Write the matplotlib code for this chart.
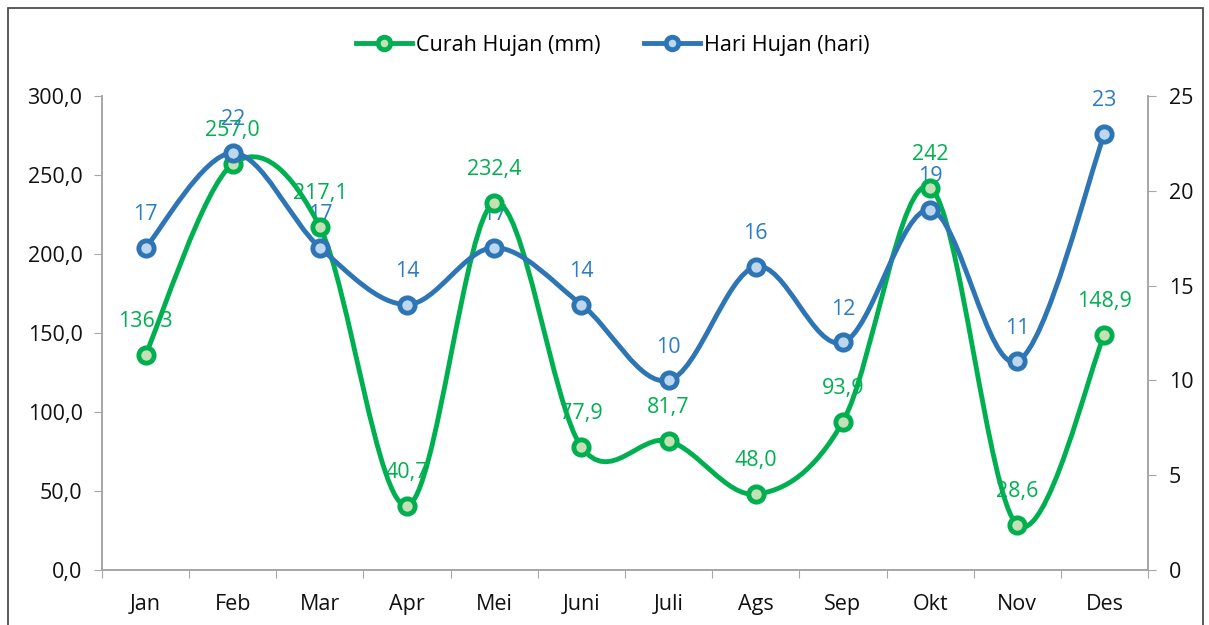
import matplotlib
matplotlib.use("Agg")
import matplotlib.pyplot as plt
from matplotlib.path import Path
from matplotlib.patches import PathPatch, Rectangle
from matplotlib.lines import Line2D
import numpy as np

plt.rcParams['font.family'] = ['Open Sans', 'DejaVu Sans']

# data
bulan = ['Jan', 'Feb', 'Mar', 'Apr', 'Mei', 'Juni', 'Juli', 'Ags', 'Sep', 'Okt', 'Nov', 'Des']
curah_hujan = [136.3, 257.0, 217.1, 40.7, 232.4, 77.9, 81.7, 48.0, 93.9, 242.0, 28.6, 148.9]
curah_label = ['136,3', '257,0', '217,1', '40,7', '232,4', '77,9', '81,7', '48,0', '93,9', '242', '28,6', '148,9']
hari_hujan = [17, 22, 17, 14, 17, 14, 10, 16, 12, 19, 11, 23]

left_ticks = [0, 50, 100, 150, 200, 250, 300]
right_ticks = [0, 5, 10, 15, 20, 25]

GREEN = '#00b050'
GREEN_FILL = '#c5e0b4'
BLUE = '#2e75b6'
BLUE_FILL = '#bdd7ee'
BLUE_TXT = '#2a7cc6'
AXIS = '#a6a6a6'
FS = 15.5


def smooth_path(xs, ys):
    # excel-like smoothed line as cubic bezier segments
    pts = np.column_stack([xs, ys]).astype(float)
    n = len(pts)
    verts = [pts[0]]
    codes = [Path.MOVETO]
    for i in range(n - 1):
        p0 = pts[i - 1] if i > 0 else pts[i]
        p1 = pts[i]
        p2 = pts[i + 1]
        p3 = pts[i + 2] if i + 2 < n else pts[i + 1]
        c1 = p1 + (p2 - p0) / 6.0
        c2 = p2 - (p3 - p1) / 6.0
        verts += [c1, c2, p2]
        codes += [Path.CURVE4] * 3
    return Path(verts, codes)


fig = plt.figure(figsize=(12.09, 6.25), dpi=100)
ax = fig.add_axes([102 / 1209, 55 / 625, (1148 - 102) / 1209, (570 - 96) / 625])
ax2 = ax.twinx()

x = np.arange(len(bulan))
ax.set_xlim(-0.5, len(bulan) - 0.5)
ax.set_ylim(0, 300)
ax2.set_ylim(0, 25)

mk = dict(ls='none', marker='o', ms=11, mew=3.5)

# labels first, lines drawn over them
for xi, yi, lab in zip(x, curah_hujan, curah_label):
    ax2.annotate(lab, (xi, yi), xycoords=ax.transData, xytext=(0, 24),
                 textcoords='offset points', ha='center', va='center',
                 fontsize=FS, color=GREEN, zorder=1)
for xi, yi in zip(x, hari_hujan):
    ax2.annotate(str(yi), (xi, yi), xytext=(0, 24), textcoords='offset points',
                 ha='center', va='center', fontsize=FS, color=BLUE_TXT, zorder=1)

ax2.add_patch(PathPatch(smooth_path(x, curah_hujan), transform=ax.transData,
                        fill=False, edgecolor=GREEN, lw=3.5, zorder=2, capstyle='round'))
ax2.plot(x, curah_hujan, mec=GREEN, mfc=GREEN_FILL, transform=ax.transData,
         zorder=2.5, **mk)
ax2.add_patch(PathPatch(smooth_path(x, hari_hujan), fill=False, edgecolor=BLUE,
                        lw=3.5, zorder=3, capstyle='round'))
ax2.plot(x, hari_hujan, mec=BLUE, mfc=BLUE_FILL, zorder=3.5, **mk)

# axes styling
ax.set_yticks(left_ticks)
ax.set_yticklabels([f'{v:.1f}'.replace('.', ',') for v in left_ticks])
ax2.set_yticks(right_ticks)
ax.set_xticks(np.arange(len(bulan) + 1) - 0.5)
ax.set_xticklabels([])
ax.set_xticks(x, minor=True)
ax.set_xticklabels(bulan, minor=True)
ax.tick_params(axis='x', which='major', length=6, color=AXIS, direction='out')
ax.tick_params(axis='x', which='minor', length=0, pad=17, labelsize=FS, labelcolor='#111111')
ax.tick_params(axis='y', length=6, color=AXIS, pad=8, labelsize=FS, labelcolor='#111111')
ax2.tick_params(axis='y', length=6, color=AXIS, pad=9, labelsize=FS, labelcolor='#111111')
for a in (ax, ax2):
    a.spines['top'].set_visible(False)
    for s in ('left', 'right', 'bottom'):
        a.spines[s].set_color(AXIS)
        a.spines[s].set_linewidth(1.2)

handles = [
    Line2D([], [], color=GREEN, lw=3.5, marker='o', ms=9, mew=3.5, mec=GREEN, mfc=GREEN_FILL),
    Line2D([], [], color=BLUE, lw=3.5, marker='o', ms=9, mew=3.5, mec=BLUE, mfc=BLUE_FILL),
]
fig.legend(handles, ['Curah Hujan (mm)', 'Hari Hujan (hari)'], loc='center',
           bbox_to_anchor=(613 / 1209, 1 - 45 / 625), ncol=2, frameon=False,
           fontsize=FS, handlelength=2.6, columnspacing=2.0, handletextpad=0.2)

# outer border
fig.patches.append(Rectangle((8 / 1209, -0.05), (1203 - 8) / 1209, 1.05 - 8 / 625,
                             transform=fig.transFigure, fill=False,
                             edgecolor='#404040', lw=1.2))

fig.savefig('out.png', dpi=100)
